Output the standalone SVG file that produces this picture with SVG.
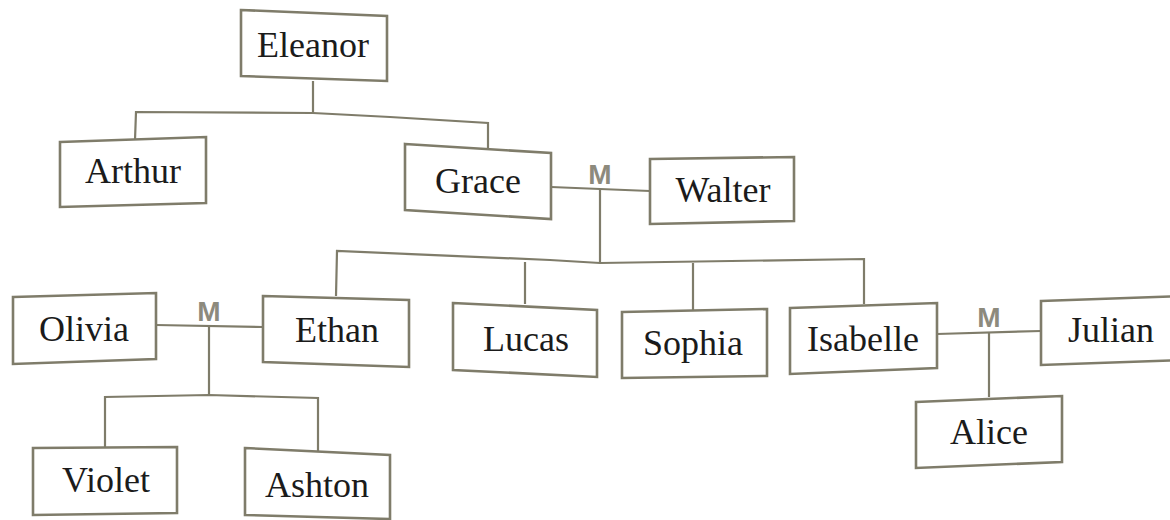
<svg xmlns="http://www.w3.org/2000/svg" width="1170" height="520" viewBox="0 0 1170 520">
<style>
.box{fill:#ffffff;stroke:#7f7c6a;stroke-width:2.6;stroke-linejoin:miter}
.name{font-family:"Liberation Serif","Times New Roman",serif;font-size:36px;fill:#1b1b1b;text-anchor:middle}
.con{fill:none;stroke:#7f7c6a;stroke-width:2.2}
.m{font-family:"Liberation Sans",Arial,sans-serif;font-size:28px;font-weight:bold;fill:#8d8a7d;text-anchor:middle}
</style>
<rect width="1170" height="520" fill="#ffffff"/>
<g id="connectors">
<polyline class="con" points="313,81 313,113"/>
<polyline class="con" points="135,140 136,112 313,113 390,117 488,123 488,148"/>
<polyline class="con" points="551,187 600,189 650,191"/>
<polyline class="con" points="600,189 600,263"/>
<polyline class="con" points="336,296 337,251 550,260 600,263 864,259 864,304"/>
<polyline class="con" points="525,262 525,304"/>
<polyline class="con" points="693,263 693,310"/>
<polyline class="con" points="156,325 263,327"/>
<polyline class="con" points="209,326 209,395"/>
<polyline class="con" points="105,448 105,397 209,395 318,398 318,451"/>
<polyline class="con" points="937,334 1041,331"/>
<polyline class="con" points="989,333 989,397"/>
</g>
<g id="marriage-labels">
<text class="m" x="600" y="184">M</text>
<text class="m" x="209" y="321">M</text>
<text class="m" x="989" y="327">M</text>
</g>
<g id="eleanor"><polygon class="box" points="241,10 387,16 387,81 241,76"/><text class="name" x="313" y="57">Eleanor</text></g>
<g id="arthur"><polygon class="box" points="60,142 206,137 206,203 60,207"/><text class="name" x="133" y="183">Arthur</text></g>
<g id="grace"><polygon class="box" points="405,144 551,153 551,219 405,210"/><text class="name" x="478" y="193">Grace</text></g>
<g id="walter"><polygon class="box" points="650,159 794,157 794,221 650,224"/><text class="name" x="723" y="202">Walter</text></g>
<g id="olivia"><polygon class="box" points="13,297 156,293 156,359 13,364"/><text class="name" x="84" y="341">Olivia</text></g>
<g id="ethan"><polygon class="box" points="263,296 409,300 409,367 263,362"/><text class="name" x="337" y="342">Ethan</text></g>
<g id="lucas"><polygon class="box" points="453,303 597,310 597,377 453,370"/><text class="name" x="526" y="351">Lucas</text></g>
<g id="sophia"><polygon class="box" points="622,312 767,309 767,376 622,378"/><text class="name" x="693" y="355">Sophia</text></g>
<g id="isabelle"><polygon class="box" points="790,308 937,303 937,368 790,374"/><text class="name" x="863" y="351">Isabelle</text></g>
<g id="julian"><polygon class="box" points="1041,301 1185,296 1185,360 1041,365"/><text class="name" x="1111" y="342">Julian</text></g>
<g id="alice"><polygon class="box" points="916,402 1062,396 1062,462 916,468"/><text class="name" x="989" y="444">Alice</text></g>
<g id="violet"><polygon class="box" points="33,448 177,447 177,513 33,515"/><text class="name" x="106" y="492">Violet</text></g>
<g id="ashton"><polygon class="box" points="245,448 390,455 390,519 245,515"/><text class="name" x="317" y="497">Ashton</text></g>
</svg>
